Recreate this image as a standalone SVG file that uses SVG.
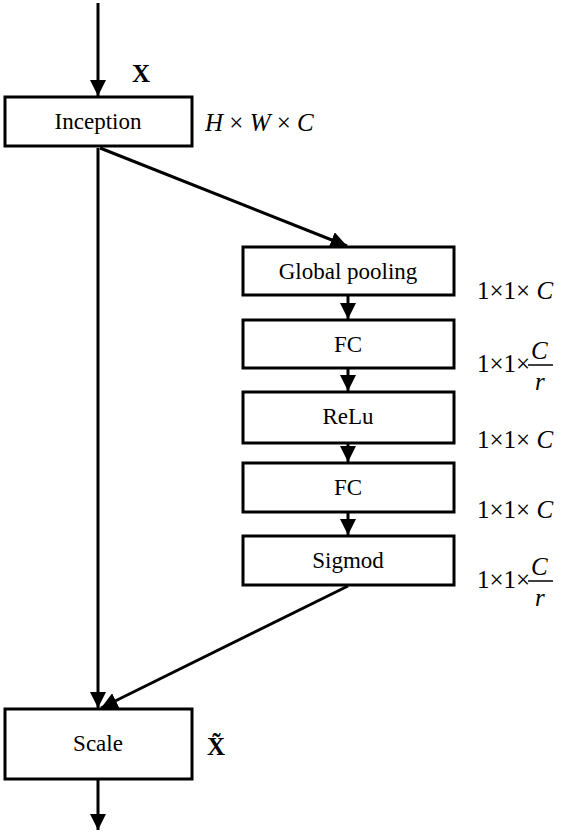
<svg xmlns="http://www.w3.org/2000/svg" width="563" height="834" viewBox="0 0 563 834">
<defs>
<marker id="ah" viewBox="0 0 10 10" refX="10" refY="5" markerWidth="5.5" markerHeight="5.5" orient="auto" markerUnits="strokeWidth">
<path d="M0,0 L10,5 L0,10 z" fill="#000"/>
</marker>
<style>
.box{fill:#fff;stroke:#000;stroke-width:3}
.t{font-family:'Liberation Serif','DejaVu Serif',serif;font-size:23px;text-anchor:middle;fill:#000}
.m{font-family:'Liberation Serif','DejaVu Serif',serif;font-size:25px;fill:#000}
.i{font-style:italic}
.c{fill:none;stroke:#000;stroke-width:3;marker-end:url(#ah)}
.frac{stroke:#000;stroke-width:1.5}
</style>
</defs>
<rect width="563" height="834" fill="#fff"/>
<g id="connectors">
<line class="c" x1="98" y1="3" x2="98" y2="96"/>
<line class="c" x1="98" y1="148" x2="98" y2="708"/>
<line class="c" x1="100" y1="148" x2="347" y2="246"/>
<line class="c" x1="348" y1="296" x2="348" y2="319"/>
<line class="c" x1="348" y1="369" x2="348" y2="391"/>
<line class="c" x1="348" y1="444" x2="348" y2="462"/>
<line class="c" x1="348" y1="513" x2="348" y2="535"/>
<line class="c" x1="348" y1="586" x2="101" y2="708"/>
<line class="c" x1="98" y1="780" x2="98" y2="830"/>
</g>
<g id="inception">
<rect class="box" x="5" y="97" width="187" height="49"/>
<text class="t" x="98" y="129">Inception</text>
</g>
<g id="global-pooling">
<rect class="box" x="243" y="247" width="211" height="48"/>
<text class="t" x="348" y="279">Global pooling</text>
</g>
<g id="fc1">
<rect class="box" x="243" y="320" width="211" height="48"/>
<text class="t" x="348" y="352">FC</text>
</g>
<g id="relu">
<rect class="box" x="243" y="392" width="211" height="51"/>
<text class="t" x="348" y="424">ReLu</text>
</g>
<g id="fc2">
<rect class="box" x="243" y="463" width="211" height="49"/>
<text class="t" x="348" y="495">FC</text>
</g>
<g id="sigmod">
<rect class="box" x="243" y="536" width="211" height="49"/>
<text class="t" x="348" y="568">Sigmod</text>
</g>
<g id="labels">
<text class="m" x="132" y="82" font-weight="bold">X</text>
<text class="m" x="205" y="131"><tspan class="i">H</tspan> × <tspan class="i">W</tspan> × <tspan class="i">C</tspan></text>
<text class="m" x="477" y="299">1×1× <tspan class="i">C</tspan></text>
<text class="m" x="477" y="372">1×1×</text>
<text class="m i" x="531" y="359">C</text>
<line class="frac" x1="528" y1="365" x2="553" y2="365"/>
<text class="m i" x="535" y="390">r</text>
<text class="m" x="477" y="448">1×1× <tspan class="i">C</tspan></text>
<text class="m" x="477" y="518">1×1× <tspan class="i">C</tspan></text>
<text class="m" x="477" y="588">1×1×</text>
<text class="m i" x="531" y="575">C</text>
<line class="frac" x1="528" y1="581" x2="553" y2="581"/>
<text class="m i" x="535" y="606">r</text>
<text class="m" x="207" y="755" font-weight="bold">X̃</text>
</g>
<g id="scale">
<rect class="box" x="5" y="709" width="187" height="70"/>
<text class="t" x="98" y="751">Scale</text>
</g>
</svg>
